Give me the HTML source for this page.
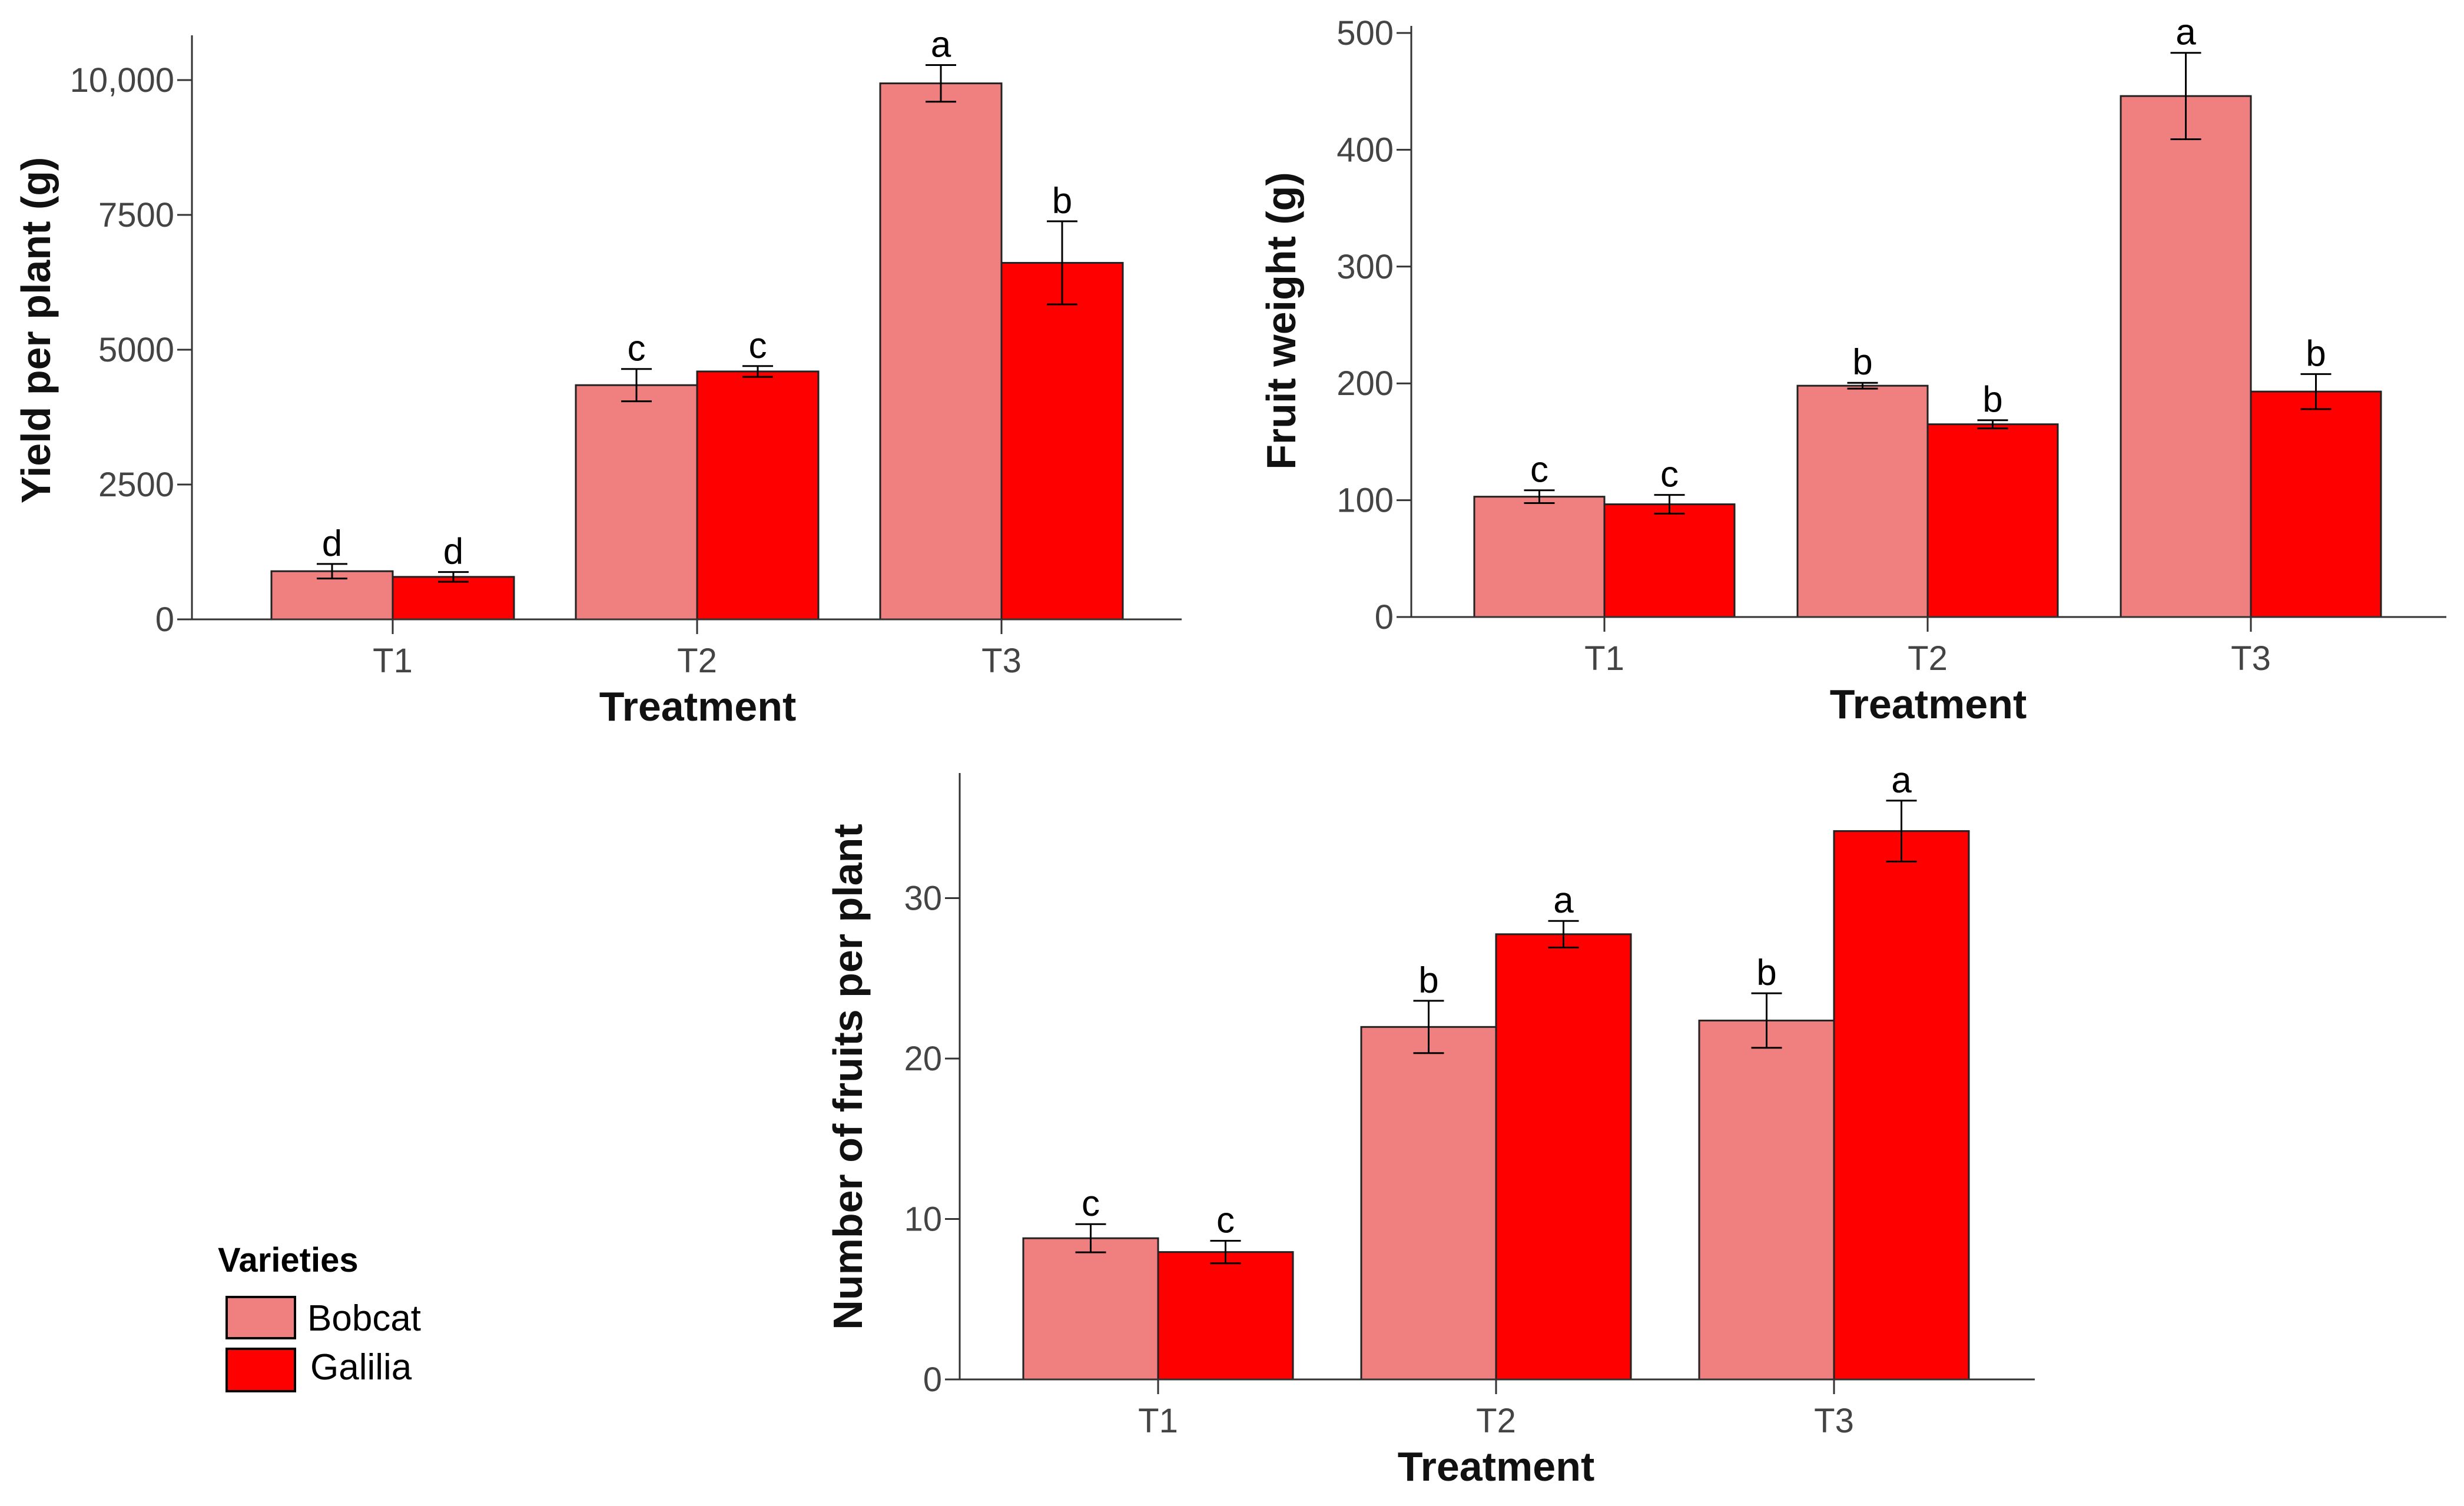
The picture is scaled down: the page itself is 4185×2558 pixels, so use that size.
<!DOCTYPE html>
<html><head><meta charset="utf-8"><style>
html,body{margin:0;padding:0;background:#fff;}
svg{display:block;}
.tick{font-family:"Liberation Sans Narrow","Liberation Sans",sans-serif;font-size:58px;fill:#444;}
.ttl{font-family:"Liberation Sans",sans-serif;font-size:70px;font-weight:bold;fill:#111;}
.let{font-family:"Liberation Sans",sans-serif;font-size:62px;fill:#000;}
</style></head><body>
<svg id="fig" width="4185" height="2558" viewBox="0 0 4185 2558" xmlns="http://www.w3.org/2000/svg">
<g>
<text x="370" y="2160" font-family="Liberation Sans,sans-serif" font-weight="bold" font-size="58">Varieties</text>
<rect x="385" y="2203" width="116" height="70" fill="#F08080" stroke="#000" stroke-width="4"/>
<text x="522" y="2260" font-family="Liberation Sans,sans-serif" font-size="62">Bobcat</text>
<rect x="385" y="2291" width="116" height="72" fill="#FF0000" stroke="#000" stroke-width="4"/>
<text x="527" y="2343" font-family="Liberation Sans,sans-serif" font-size="62">Galilia</text>
</g>
</svg>
<script>
const categories = ["T1","T2","T3"];
// Chart 1: Yield per plant
const yieldBobcat = [893, 4343, 9939];
const yieldGalilia = [788, 4597, 6611];
const yieldBobcatErr = [135, 300, 340];
const yieldGaliliaErr = [90, 100, 770];
const yieldLettersB = ["d","c","a"];
const yieldLettersG = ["d","c","b"];
const yieldTicks = [0, 2500, 5000, 7500, 10000];
const yieldTickLabels = ["0","2500","5000","7500","10,000"];
// Chart 2: Fruit weight
const weightBobcat = [103, 198, 446];
const weightGalilia = [96.5, 165, 193];
const weightBobcatErr = [5.5, 2.5, 37];
const weightGaliliaErr = [8, 3.5, 15];
const weightLettersB = ["c","b","a"];
const weightLettersG = ["c","b","b"];
const weightTicks = [0,100,200,300,400,500];
const weightTickLabels = ["0","100","200","300","400","500"];
// Chart 3: Number of fruits
const fruitsBobcat = [8.8, 21.97, 22.37];
const fruitsGalilia = [7.94, 27.75, 34.18];
const fruitsBobcatErr = [0.88, 1.63, 1.7];
const fruitsGaliliaErr = [0.7, 0.83, 1.9];
const fruitsLettersB = ["c","b","b"];
const fruitsLettersG = ["c","a","a"];
const fruitsTicks = [0,10,20,30];
const fruitsTickLabels = ["0","10","20","30"];

const NS="http://www.w3.org/2000/svg";
const svg=document.getElementById('fig');
function mk(tag,attrs,parent){const e=document.createElementNS(NS,tag);for(const k in attrs)e.setAttribute(k,attrs[k]);(parent||svg).appendChild(e);return e;}

function drawChart(cfg){
  const g=mk('g',{});
  
  
  const y=v=>cfg.y0-(v/cfg.unit)*cfg.unitPx;
  const xc=i=>cfg.c0+i*cfg.step;
  const w=cfg.bw;
  [[cfg.b,cfg.be,cfg.lb,"#F08080",-1,"bobcat"],[cfg.gv,cfg.ge,cfg.lg,"#FF0000",0,"galilia"]].forEach(s=>{
    s[0].forEach((v,i)=>{
      const x=xc(i)+s[4]*w;
      const r=mk('rect',{x:x,y:y(v),width:w,height:cfg.y0-y(v),fill:s[3],stroke:"#222","stroke-width":3},g);
      
      
      const cx=x+w/2, hi=y(v+s[1][i]), lo=y(v-s[1][i]);
      const eb=mk('path',{d:`M${cx-26},${hi}H${cx+26}M${cx},${hi}V${lo}M${cx-26},${lo}H${cx+26}`,stroke:"#000","stroke-width":3,fill:"none"},g);
      
      
      const t=mk('text',{x:cx,y:hi-14,"text-anchor":"middle",class:"let"},g);
      t.textContent=s[2][i];
      
      
    });
  });
  const ya=mk('line',{x1:cfg.ax,y1:cfg.top,x2:cfg.ax,y2:cfg.y0,stroke:"#333","stroke-width":3},g);
  
  
  const xa=mk('line',{x1:cfg.ax-25,y1:cfg.y0,x2:cfg.right,y2:cfg.y0,stroke:"#333","stroke-width":3},g);
  
  
  cfg.ticks.forEach((tv,i)=>{
    mk('line',{x1:cfg.ax-25,y1:y(tv),x2:cfg.ax,y2:y(tv),stroke:"#333","stroke-width":3},g);
    const t=mk('text',{x:cfg.ax-30,y:y(tv)+20,"text-anchor":"end",class:"tick"},g);
    t.textContent=cfg.tl[i];
    
    
  });
  categories.forEach((c,i)=>{
    mk('line',{x1:xc(i),y1:cfg.y0,x2:xc(i),y2:cfg.y0+25,stroke:"#333","stroke-width":3},g);
    const t=mk('text',{x:xc(i),y:cfg.y0+90,"text-anchor":"middle",class:"tick"},g);
    t.textContent=c;
    
    
  });
  const xt=mk('text',{x:cfg.xtX,y:cfg.y0+172,"text-anchor":"middle",class:"ttl"},g);
  xt.textContent="Treatment";
  
  
  const yt=mk('text',{x:0,y:0,"text-anchor":"middle",class:"ttl",transform:`translate(${cfg.ytX},${cfg.ytY}) rotate(-90)`},g);
  yt.textContent=cfg.ytitle;
  
  
}
drawChart({name:"yield-chart",y0:1052,unit:2500,unitPx:229,ax:326,top:60,right:2007,c0:667,step:517,bw:206,
  b:yieldBobcat,gv:yieldGalilia,be:yieldBobcatErr,ge:yieldGaliliaErr,lb:yieldLettersB,lg:yieldLettersG,
  ticks:yieldTicks,tl:yieldTickLabels,xtX:1185,ytX:85,ytY:561,ytitle:"Yield per plant (g)"});
drawChart({name:"fruit-weight-chart",y0:1048,unit:100,unitPx:198.4,ax:2397,top:44,right:4155,c0:2725,step:549,bw:221,
  b:weightBobcat,gv:weightGalilia,be:weightBobcatErr,ge:weightGaliliaErr,lb:weightLettersB,lg:weightLettersG,
  ticks:weightTicks,tl:weightTickLabels,xtX:3275,ytX:2200,ytY:545,ytitle:"Fruit weight (g)"});
drawChart({name:"fruits-per-plant-chart",y0:2343,unit:10,unitPx:272.5,ax:1630,top:1313,right:3456,c0:1967,step:574,bw:229,
  b:fruitsBobcat,gv:fruitsGalilia,be:fruitsBobcatErr,ge:fruitsGaliliaErr,lb:fruitsLettersB,lg:fruitsLettersG,
  ticks:fruitsTicks,tl:fruitsTickLabels,xtX:2541,ytX:1464,ytY:1829,ytitle:"Number of fruits per plant"});
</script>
</body></html>
